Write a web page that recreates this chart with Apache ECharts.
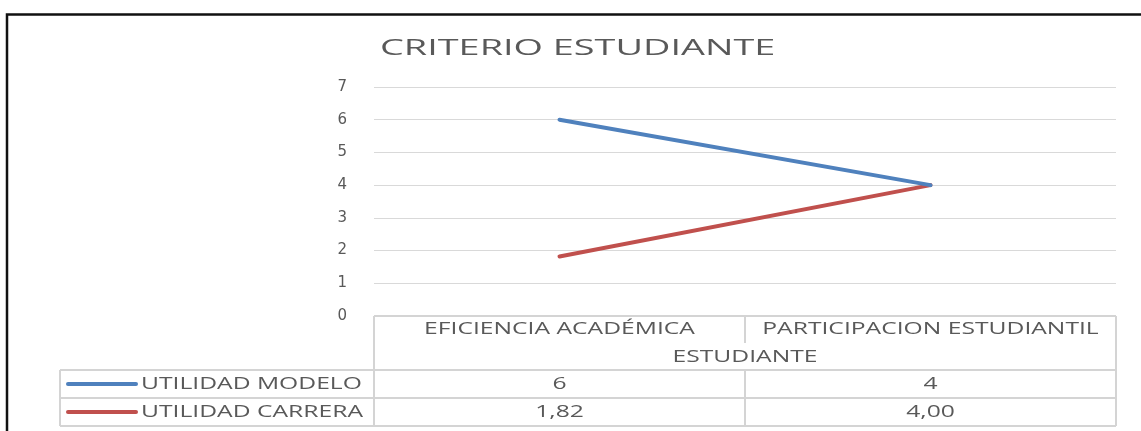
<!DOCTYPE html>
<html>
<head>
<meta charset="utf-8">
<script src="https://cdn.jsdelivr.net/npm/echarts@6/dist/echarts.min.js"></script>
<style>
  html, body { margin: 0; padding: 0; background: #fff; }
  #chart { width: 1141px; height: 431px; }
</style>
</head>
<body>
<div id="chart"></div>
<script>
// Chart data
const titleText = 'CRITERIO ESTUDIANTE';
const categories = ['EFICIENCIA ACADÉMICA', 'PARTICIPACION ESTUDIANTIL'];
const groupLabel = 'ESTUDIANTE';
const seriesNames = ['UTILIDAD MODELO', 'UTILIDAD CARRERA'];
const utilidadModelo = [6, 4];
const utilidadCarrera = [1.82, 4.00];
const seriesDecimals = [0, 2];
const yTicks = [0, 1, 2, 3, 4, 5, 6, 7];

const colors = ['#4F81BD', '#C0504D'];
const textColor = '#595959';
const tableLine = '#D4D4D4';
const FONT = '"Open Sans", sans-serif';
const SX = 1.45; // horizontal stretch of table text

const chart = echarts.init(document.getElementById('chart'));

const seriesData = [utilidadModelo, utilidadCarrera];

function fmt(v, d) {
  return v.toFixed(d).replace('.', ',');
}

chart.setOption({
  animation: false,
  grid: { left: 374, right: 25, top: 87, bottom: 115 },
  xAxis: {
    type: 'category',
    data: categories,
    boundaryGap: true,
    axisLine: { show: false },
    axisTick: { show: false },
    axisLabel: { show: false }
  },
  yAxis: {
    type: 'value',
    min: yTicks[0],
    max: yTicks[yTicks.length - 1],
    interval: 1,
    axisLine: { show: false },
    axisTick: { show: false },
    axisLabel: {
      margin: 27,
      color: textColor,
      fontFamily: '"DejaVu Sans", sans-serif',
      fontSize: 15
    },
    splitLine: { lineStyle: { color: '#D9D9D9', width: 1 } }
  },
  series: seriesData.map((d, i) => ({
    name: seriesNames[i],
    type: 'line',
    data: d,
    showSymbol: false,
    symbol: 'none',
    lineStyle: { color: colors[i], width: 4, cap: 'round' },
    itemStyle: { color: colors[i] },
    z: 3 + (seriesData.length - i)
  }))
});

// Data table below the plot, columns aligned with the category axis
const gridLeft = 374, gridRight = 1141 - 25;
const y0 = chart.convertToPixel({ yAxisIndex: 0 }, 0);
const colX = categories.map(c => chart.convertToPixel({ xAxisIndex: 0 }, c));
const midX = (colX[0] + colX[1]) / 2;
const rowCat = y0, rowGroup = y0 + 29, rowS1 = 370, rowS2 = 398, rowEnd = 426;
const legendLeft = 60;

function hline(x1, x2, y) {
  return { type: 'line', silent: true, shape: { x1, y1: y, x2, y2: y },
           style: { stroke: tableLine, lineWidth: 2 } };
}
function vline(x, y1, y2) {
  return { type: 'line', silent: true, shape: { x1: x, y1, x2: x, y2 },
           style: { stroke: tableLine, lineWidth: 2 } };
}
function txt(text, x, y, align, size, sx) {
  return { type: 'text', x, y, scaleX: sx, silent: true,
           style: { text, fill: textColor, font: size + 'px ' + FONT,
                    align, verticalAlign: 'middle' } };
}

const g = [];
// outer frame
g.push({ type: 'rect', silent: true, shape: { x: 7, y: 14.5, width: 1200, height: 500 },
         style: { fill: 'none', stroke: '#111', lineWidth: 2.5 } });
// title
g.push(txt(titleText, 380, 49, 'left', 22, 1.72));
// table grid lines
g.push(hline(gridLeft, gridRight, rowCat));
g.push(vline(gridLeft, rowCat, rowEnd));
g.push(vline(gridRight, rowCat, rowEnd));
g.push(vline(midX, rowCat, rowCat + 27));
g.push(hline(legendLeft, gridRight, rowS1));
g.push(hline(legendLeft, gridRight, rowS2));
g.push(hline(legendLeft, gridRight, rowEnd));
g.push(vline(legendLeft, rowS1, rowEnd));
g.push(vline(midX, rowS1, rowEnd));
// header texts
categories.forEach((c, i) => g.push(txt(c, colX[i], rowCat + 13.5, 'center', 17, SX)));
g.push(txt(groupLabel, midX, rowGroup + 12, 'center', 17, SX));
// series rows
[rowS1, rowS2].forEach((ry, i) => {
  const cy = (ry + (i === 0 ? rowS2 : rowEnd)) / 2;
  g.push({ type: 'line', silent: true, shape: { x1: 68, y1: cy, x2: 136, y2: cy },
           style: { stroke: colors[i], lineWidth: 4, lineCap: 'round' } });
  g.push(txt(seriesNames[i], 141, cy, 'left', 17, SX));
  seriesData[i].forEach((v, j) => g.push(txt(fmt(v, seriesDecimals[i]), colX[j], cy, 'center', 17, SX)));
});

chart.setOption({ graphic: { elements: g } });
</script>
</body>
</html>
